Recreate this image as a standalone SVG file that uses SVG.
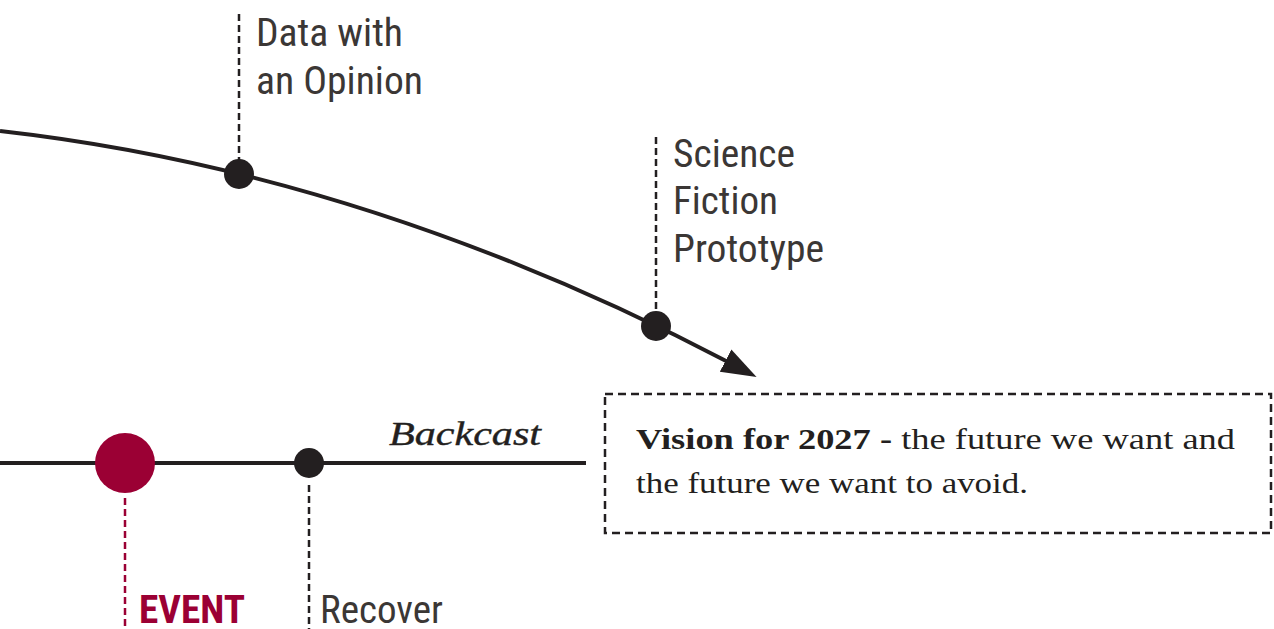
<svg xmlns="http://www.w3.org/2000/svg" width="1274" height="629" viewBox="0 0 1274 629">
<style>
.lbl{font-family:"Roboto Condensed",Roboto,"Liberation Sans",sans-serif;font-size:38px;fill:#3b3735}
.ser{font-family:"Liberation Serif","DejaVu Serif",serif;fill:#231f20}
.dash{stroke:#231f20;stroke-width:2.5;stroke-dasharray:7 4;fill:none}
.dashr{stroke:#9b0034;stroke-width:2.5;stroke-dasharray:7 4;fill:none}
.line{stroke:#231f20;stroke-width:4;fill:none}
.dot{fill:#231f20}
</style>
<defs>
<marker id="arr" markerUnits="userSpaceOnUse" markerWidth="40" markerHeight="30" refX="4" refY="0" viewBox="0 -12 32 24" orient="auto">
<path d="M0,-10 L28,0 L0,10 z" fill="#231f20"/>
</marker>
</defs>
<g id="connectors">
<path class="line" d="M0,131 Q365,172 730,363" marker-end="url(#arr)"/>
<line class="line" x1="0" y1="463" x2="586" y2="463"/>
<line class="dash" x1="239" y1="14" x2="239" y2="160"/>
<line class="dash" x1="656" y1="137" x2="656" y2="312"/>
<line class="dashr" x1="125" y1="498" x2="125" y2="629"/>
<line class="dash" x1="309" y1="485" x2="309" y2="629"/>
</g>
<g id="node-data">
<circle class="dot" cx="239" cy="174" r="15"/>
<text class="lbl" x="256" y="46" textLength="147" lengthAdjust="spacingAndGlyphs">Data with</text>
<text class="lbl" x="256" y="94" textLength="167" lengthAdjust="spacingAndGlyphs">an Opinion</text>
</g>
<g id="node-scifi">
<circle class="dot" cx="656" cy="326" r="15"/>
<text class="lbl" x="673" y="167" textLength="122" lengthAdjust="spacingAndGlyphs">Science</text>
<text class="lbl" x="673" y="214" textLength="105" lengthAdjust="spacingAndGlyphs">Fiction</text>
<text class="lbl" x="673" y="262" textLength="151" lengthAdjust="spacingAndGlyphs">Prototype</text>
</g>
<g id="node-event">
<circle cx="125" cy="463" r="30" fill="#9b0034"/>
<text class="lbl" x="139" y="623" style="font-weight:bold;fill:#9b0034" textLength="106" lengthAdjust="spacingAndGlyphs">EVENT</text>
</g>
<g id="node-recover">
<circle class="dot" cx="309" cy="463" r="15"/>
<text class="lbl" x="320" y="623" textLength="123" lengthAdjust="spacingAndGlyphs">Recover</text>
</g>
<g id="label-backcast">
<text class="ser" x="389" y="445" style="font-size:34px;font-style:italic;stroke:#231f20;stroke-width:0.4" textLength="152" lengthAdjust="spacingAndGlyphs">Backcast</text>
</g>
<g id="node-vision">
<rect x="605" y="394" width="666" height="139" fill="none" stroke="#231f20" stroke-width="2.5" stroke-dasharray="8 5"/>
<text class="ser" x="636" y="449" style="font-size:29px" textLength="599" lengthAdjust="spacingAndGlyphs"><tspan style="font-weight:bold">Vision for 2027 -</tspan> the future we want and</text>
<text class="ser" x="636" y="493" style="font-size:29px" textLength="392" lengthAdjust="spacingAndGlyphs">the future we want to avoid.</text>
</g>
</svg>
